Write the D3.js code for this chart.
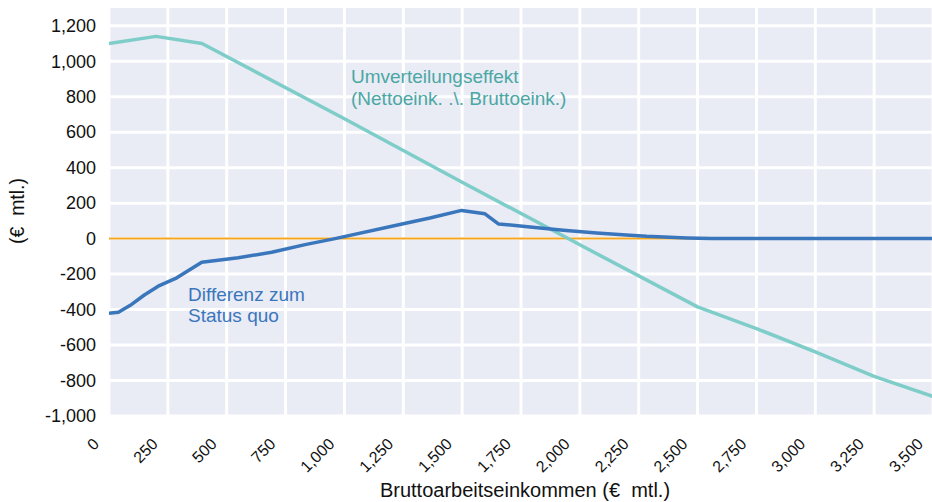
<!DOCTYPE html>
<html>
<head>
<meta charset="utf-8">
<script src="https://cdn.jsdelivr.net/npm/d3@7"></script>
<style>
	body { margin:0; background:#fff; }
	svg text { font-family:"Liberation Sans", Arial, sans-serif; white-space:pre; }
</style>
</head>
<body>
<svg id="chart" width="932" height="502"></svg>
<script>
var	xTicks		= [0,250,500,750,1000,1250,1500,1750,2000,2250,2500,2750,3000,3250,3500],
	yTicks		= [-1000,-800,-600,-400,-200,0,200,400,600,800,1000,1200],
	umvIncome	= [0,200,395,1000,1500,2000,2500,2750,3000,3250,3500],
	umvValue	= [1100,1140,1100,676,318,-35,-385,-507,-638,-777,-890],
	diffIncome	= [0,40,96,150,209,288,394,549,691,833,960,1250,1363,1498,1597,1654,1788,1930,2071,2213,2284,2454,2560,3000,3500],
	diffValue	= [-421,-415,-371,-318,-268,-221,-133,-108,-77,-34,0,84,116,159,140,83,66,47,32,19,13,4,0,0,0];

function umvData()  { return umvIncome.map(function(d,i) { return [d, umvValue[i]]; }); }
function diffData() { return diffIncome.map(function(d,i) { return [d, diffValue[i]]; }); }

var	svg	= d3.select("#chart"),
	pLeft	= 109, pRight = 932, pTop = 8, pBottom = 416,
	x	= d3.scaleLinear().domain([0,3500]).range([pLeft, 933]),
	y	= d3.scaleLinear().domain([-1000,1300]).range([pBottom, pTop]),
	fmt	= d3.formatLocale({decimal:".", thousands:",", grouping:[3], currency:["",""], minus:"-"}).format(",");

svg.append("clipPath").attr("id","plotClip").append("rect")
	.attr("x", pLeft).attr("y", pTop).attr("width", pRight-pLeft).attr("height", pBottom-pTop);

svg.append("rect").attr("x", pLeft).attr("y", pTop).attr("width", pRight-pLeft).attr("height", pBottom-pTop)
	.attr("fill", "#e9ebf5");

var grid = svg.append("g").attr("clip-path","url(#plotClip)");
grid.selectAll(".vgrid").data(xTicks).enter().append("line").attr("class","vgrid")
	.attr("x1", function(d) { return x(d); }).attr("x2", function(d) { return x(d); })
	.attr("y1", pTop).attr("y2", pBottom)
	.attr("stroke", "#fff").attr("stroke-width", 3);
grid.selectAll(".hgrid").data(yTicks).enter().append("line").attr("class","hgrid")
	.attr("x1", pLeft).attr("x2", pRight)
	.attr("y1", function(d) { return y(d); }).attr("y2", function(d) { return y(d); })
	.attr("stroke", "#fff").attr("stroke-width", 3);

// y tick labels
svg.append("g").selectAll("text").data(yTicks).enter().append("text")
	.attr("x", 96).attr("y", function(d) { return y(d); }).attr("dy", "0.35em")
	.attr("text-anchor", "end").attr("font-size", 18).attr("fill", "#111")
	.text(function(d) { return fmt(d); });

// x tick labels, rotated
svg.append("g").selectAll("text").data(xTicks).enter().append("text")
	.attr("transform", function(d) { return "translate(" + (x(d)-9) + ",445) rotate(-45)"; })
	.attr("text-anchor", "end").attr("font-size", 16).attr("fill", "#111")
	.text(function(d) { return fmt(d); });

svg.append("text").attr("x", 525).attr("y", 497)
	.attr("text-anchor", "middle").attr("font-size", 20).attr("fill", "#111")
	.text("Bruttoarbeitseinkommen (€  mtl.)");
svg.append("text").attr("transform", "translate(24,211) rotate(-90)")
	.attr("text-anchor", "middle").attr("font-size", 19.5).attr("fill", "#111")
	.text("(€  mtl.)");

var	line	= d3.line().x(function(d) { return x(d[0]); }).y(function(d) { return y(d[1]); }),
	plot	= svg.append("g").attr("clip-path","url(#plotClip)");

plot.append("line").attr("x1", pLeft).attr("x2", pRight).attr("y1", y(0)).attr("y2", y(0))
	.attr("stroke", "#f4a522").attr("stroke-width", 2);
plot.append("path").datum(umvData()).attr("d", line)
	.attr("fill", "none").attr("stroke", "#7ecdc9").attr("stroke-width", 3.5).attr("stroke-linejoin","round");
plot.append("path").datum(diffData()).attr("d", line)
	.attr("fill", "none").attr("stroke", "#3a76bc").attr("stroke-width", 3.5).attr("stroke-linejoin","round");

var umvLabel = svg.append("text").attr("font-size", 19).attr("fill", "#4ba7a4");
umvLabel.append("tspan").attr("x", 351).attr("y", 83).text("Umverteilungseffekt");
umvLabel.append("tspan").attr("x", 351).attr("y", 105).text("(Nettoeink. .\\. Bruttoeink.)");

var diffLabel = svg.append("text").attr("font-size", 19).attr("fill", "#3a76bc");
diffLabel.append("tspan").attr("x", 188).attr("y", 301).text("Differenz zum");
diffLabel.append("tspan").attr("x", 188).attr("y", 322).text("Status quo");
</script>
</body>
</html>
